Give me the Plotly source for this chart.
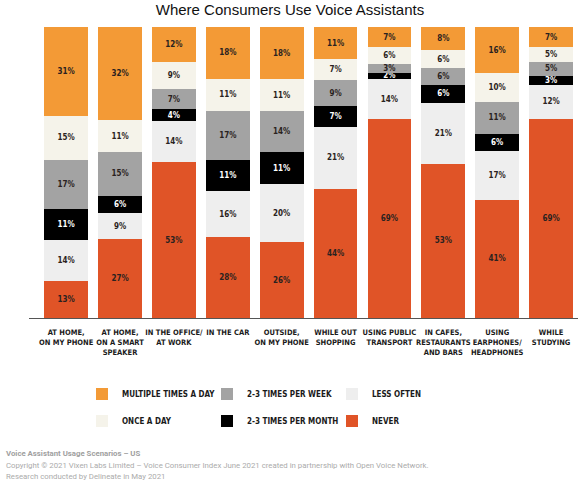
import plotly.graph_objects as go

categories = [
    "AT HOME,<br>ON MY PHONE",
    "AT HOME,<br>ON A SMART<br>SPEAKER",
    "IN THE OFFICE/<br>AT WORK",
    "IN THE CAR",
    "OUTSIDE,<br>ON MY PHONE",
    "WHILE OUT<br>SHOPPING",
    "USING PUBLIC<br>TRANSPORT",
    "IN CAFES,<br>RESTAURANTS<br>AND BARS",
    "USING<br>EARPHONES/<br>HEADPHONES",
    "WHILE<br>STUDYING",
]

never = [13, 27, 53, 28, 26, 44, 69, 53, 41, 69]
less_often = [14, 9, 14, 16, 20, 21, 14, 21, 17, 12]
per_month = [11, 6, 4, 11, 11, 7, 2, 6, 6, 3]
per_week = [17, 15, 7, 17, 14, 9, 3, 6, 11, 5]
once_a_day = [15, 11, 9, 11, 11, 7, 6, 6, 10, 5]
multiple_a_day = [31, 32, 12, 18, 18, 11, 7, 8, 16, 7]

series = [
    # name, values, color, text color, legend, rank
    ("NEVER", never, "#E05427", "#2a2220", "legend2", 3),
    ("LESS OFTEN", less_often, "#EEEEEE", "#2a2220", "legend", 3),
    ("2-3 TIMES PER MONTH", per_month, "#000000", "#ffffff", "legend2", 2),
    ("2-3 TIMES PER WEEK", per_week, "#A3A3A3", "#2a2220", "legend", 2),
    ("ONCE A DAY", once_a_day, "#F5F3EA", "#2a2220", "legend2", 1),
    ("MULTIPLE TIMES A DAY", multiple_a_day, "#F39A36", "#2a2220", "legend", 1),
]

COND = "DejaVu Sans Condensed, Liberation Sans Narrow, sans-serif"

fig = go.Figure()
for name, vals, color, tcolor, leg, rank in series:
    fig.add_trace(go.Bar(
        x=list(range(len(categories))),
        y=vals,
        name=name,
        marker=dict(color=color, line=dict(width=0)),
        text=[f"{v}%" for v in vals],
        textposition="inside",
        insidetextanchor="middle",
        textangle=0,
        textfont=dict(family=COND, size=8, color=tcolor, weight="bold"),
        hoverinfo="skip",
        legend=leg,
        legendrank=rank,
    ))

W, H = 580, 485
ml, mr, mt, mb = 29, 2, 27, 167
pw = W - ml - mr
ph = H - mt - mb

def px_x(x):
    return (x - ml) / pw

def px_y(y):
    return (H - mb - y) / ph

legend_common = dict(
    orientation="h",
    entrywidth=80,
    entrywidthmode="pixels",
    traceorder="normal",
    xanchor="left",
    yanchor="middle",
    font=dict(family=COND, size=8, color="#1a1a1a", weight="bold"),
    bgcolor="rgba(0,0,0,0)",
    itemclick=False,
    itemdoubleclick=False,
)

fig.update_layout(
    width=W, height=H,
    margin=dict(l=ml, r=mr, t=mt, b=mb, autoexpand=False),
    paper_bgcolor="white",
    plot_bgcolor="white",
    barmode="stack",
    barnorm="percent",
    bargap=0.19,
    uniformtext=dict(minsize=8, mode="show"),
    title=dict(
        text="Where Consumers Use Voice Assistants",
        x=0.5, xref="container", xanchor="center",
        y=1 - 10 / H, yref="container", yanchor="middle",
        font=dict(family="Liberation Sans, Arial, sans-serif", size=15, color="#111111"),
    ),
    xaxis=dict(
        tickmode="array",
        tickvals=list(range(len(categories))),
        ticktext=categories,
        tickangle=0,
        range=[-0.69, 9.5],
        showgrid=False,
        zeroline=False,
        showline=True,
        linecolor="#555555",
        linewidth=1,
        ticks="",
        ticklabelstandoff=7,
        tickfont=dict(family=COND, size=7.5, color="#1a1a1a", weight="bold"),
        fixedrange=True,
    ),
    yaxis=dict(
        range=[0, 100],
        visible=False,
        fixedrange=True,
    ),
    showlegend=True,
    legend=dict(x=px_x(82), y=px_y(394), **legend_common),
    legend2=dict(x=px_x(82), y=px_y(421), **legend_common),
)

fig.add_annotation(
    text="<b>Voice Assistant Usage Scenarios – US</b>",
    xref="paper", yref="paper", x=px_x(4), y=px_y(453),
    xanchor="left", yanchor="middle", showarrow=False,
    font=dict(family="Roboto, sans-serif", size=7.8, color="#a0a0a0"),
)
fig.add_annotation(
    text="Copyright © 2021 Vixen Labs Limited – Voice Consumer Index June 2021 created in partnership with Open Voice Network.",
    xref="paper", yref="paper", x=px_x(4), y=px_y(465),
    xanchor="left", yanchor="middle", showarrow=False,
    font=dict(family="Roboto, sans-serif", size=7.8, color="#ababab"),
)
fig.add_annotation(
    text="Research conducted by Delineate in May 2021",
    xref="paper", yref="paper", x=px_x(4), y=px_y(477),
    xanchor="left", yanchor="middle", showarrow=False,
    font=dict(family="Roboto, sans-serif", size=7.8, color="#ababab"),
)

fig.write_html(
    "out.html",
    config={"displayModeBar": False},
    post_script="document.body.style.margin='0';document.body.style.padding='0';",
)
